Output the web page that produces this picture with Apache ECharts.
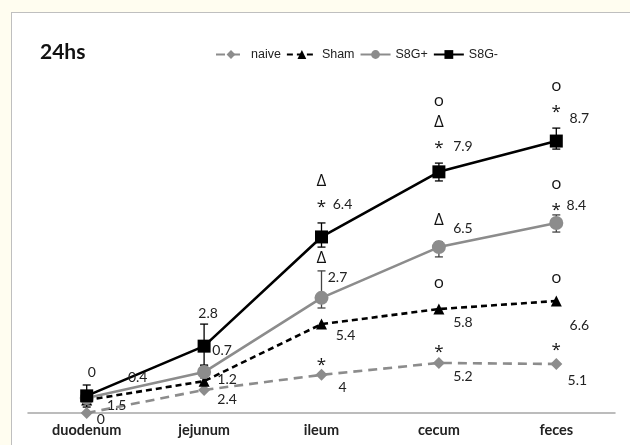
<!DOCTYPE html>
<html>
<head>
<meta charset="utf-8">
<script src="https://cdn.jsdelivr.net/npm/echarts@6/dist/echarts.min.js"></script>
<style>
  html, body { margin: 0; padding: 0; background: #FFFDF0; }
  .panel { position: absolute; left: 11px; top: 12px; width: 619px; height: 433px; background: #fff;
           border-top: 1px solid #BFBFBF; border-left: 1px solid #BFBFBF; box-sizing: border-box; }
  #chart { position: absolute; left: 0; top: 0; width: 630px; height: 445px; }
</style>
</head>
<body>
<div class="panel"></div>
<div id="chart"></div>
<script>
// categories and series (arbitrary units above the axis)
const categories = ['duodenum', 'jejunum', 'ileum', 'cecum', 'feces']
const naive = [0, 6.6, 10.9, 14.3, 14]
const sham = [3.7, 9.1, 25.4, 29.7, 32]
const s8gPlus = [4.3, 11.7, 32.9, 47.4, 54.3]
const s8gMinus = [4.9, 19.1, 50.3, 68.9, 77.7]

// error bars
const s8gPlusLow = [4.3, 10, 30, 44.6, 51.7]
const s8gPlusHigh = [4.3, 13.5, 40.6, 48.9, 56.6]
const s8gMinusLow = [1.7, 13.7, 47.4, 66.3, 75.4]
const s8gMinusHigh = [8.0, 25.4, 54.3, 71.4, 81.4]

// number labels printed next to the points
const naiveLabels = ['0', '2.4', '4', '5.2', '5.1']
const shamLabels = ['1.5', '1.2', '5.4', '5.8', '6.6']
const s8gPlusLabels = ['0.4', '0.7', '2.7', '6.5', '8.4']
const s8gMinusLabels = ['0', '2.8', '6.4', '7.9', '8.7']

// significance marks, top to bottom
const naiveSig = ['', '', '*', '*', '*']
const shamSig = ['', '', '', 'o', 'o']
const s8gPlusSig = ['', '', 'Δ', 'Δ', 'o*']
const s8gMinusSig = ['', '', 'Δ*', 'oΔ*', 'o*']

// label placement (pixels from the point)
const numOffsets = {
  naive: [[14, 6], [23, 10], [21, 13], [24, 14], [21, 16]],
  sham: [[30, 5], [23, -2], [24, 11], [24, 13], [23, 24]],
  plus: [[51, -20], [18, -22], [16, -20], [24, -19], [20, -17]],
  minus: [[5, -23], [4, -33], [21, -32], [24, -25], [23, -23]]
}
const sigBase = {
  naive: [0, 0, -15, -16, -19],
  sham: [0, 0, 0, -26, -23],
  plus: [0, 0, -40, -27, -18],
  minus: [0, 0, -35, -29, -34]
}
const sigAdjust = { '*': 5, 'o': 0, 'Δ': 0 }

const FONT = 'Lato, "Open Sans", sans-serif'
const GRAY = '#8C8C8C'

function pointData(values, labels, offs) {
  return values.map((v, i) => ({
    value: v,
    label: { show: true, formatter: labels[i], offset: offs[i] }
  }))
}

function sigMarks(values, sig, base) {
  const out = []
  sig.forEach((s, i) => {
    const chars = Array.from(s).reverse()
    chars.forEach((c, k) => {
      out.push({
        coord: [i, values[i]],
        symbolSize: 0,
        label: { show: true, formatter: c, position: 'inside', offset: [0, base[i] - 21 * k + sigAdjust[c]] }
      })
    })
  })
  return out
}

function errSeries(low, high, color) {
  return {
    type: 'custom',
    z: 1,
    silent: true,
    data: low.map((l, i) => [i, l, high[i]]),
    renderItem: (params, api) => {
      const lo = api.coord([api.value(0), api.value(1)])
      const hi = api.coord([api.value(0), api.value(2)])
      const w = 4
      const style = { stroke: color, lineWidth: 1.3 }
      return {
        type: 'group',
        children: [
          { type: 'line', shape: { x1: lo[0], y1: lo[1], x2: hi[0], y2: hi[1] }, style },
          { type: 'line', shape: { x1: hi[0] - w, y1: hi[1], x2: hi[0] + w, y2: hi[1] }, style },
          { type: 'line', shape: { x1: lo[0] - w, y1: lo[1], x2: lo[0] + w, y2: lo[1] }, style }
        ]
      }
    }
  }
}

const labelStyle = { position: 'inside', color: '#222', fontSize: 14, fontFamily: FONT }
const sigLabel = { color: '#111', fontSize: 17, fontFamily: '"Open Sans", "DejaVu Sans", sans-serif' }

function lineSeries(name, values, labels, offs, sig, base, color, type, symbol, size) {
  return {
    name,
    type: 'line',
    z: 3,
    data: pointData(values, labels, offs),
    symbol,
    symbolSize: size,
    showAllSymbol: true,
    lineStyle: { color, width: 2.6, type },
    itemStyle: { color },
    label: labelStyle,
    markPoint: { silent: true, symbol: 'circle', data: sigMarks(values, sig, base), label: sigLabel }
  }
}

const chart = echarts.init(document.getElementById('chart'))
chart.setOption({
  animation: false,
  title: {
    text: '24hs', left: 35, top: 37,
    textStyle: { fontSize: 21, fontWeight: 'bold', fontFamily: FONT, color: '#111' }
  },
  legend: {
    left: 210, top: 43,
    itemWidth: 30, itemHeight: 11, itemGap: 5,
    textStyle: { fontSize: 12.5, fontFamily: '"Liberation Sans", Arial, sans-serif', color: '#222' },
    data: ['naive', 'Sham', 'S8G+', 'S8G-']
  },
  grid: { left: 28, right: 15, top: 63, bottom: 32 },
  xAxis: {
    type: 'category',
    data: categories,
    axisLine: { lineStyle: { color: '#A6A6A6', width: 1.5 } },
    axisTick: { show: false },
    axisLabel: { margin: 10, fontSize: 14.5, fontWeight: 'bold', fontFamily: FONT, color: '#222' }
  },
  yAxis: { type: 'value', min: 0, max: 100, show: false, splitLine: { show: false } },
  series: [
    errSeries(s8gPlusLow, s8gPlusHigh, '#444'),
    errSeries(s8gMinusLow, s8gMinusHigh, '#000'),
    lineSeries('naive', naive, naiveLabels, numOffsets.naive, naiveSig, sigBase.naive, GRAY, [9, 6], 'diamond', 12),
    lineSeries('Sham', sham, shamLabels, numOffsets.sham, shamSig, sigBase.sham, '#000', [6, 4], 'triangle', 11),
    lineSeries('S8G+', s8gPlus, s8gPlusLabels, numOffsets.plus, s8gPlusSig, sigBase.plus, GRAY, 'solid', 'circle', 14),
    lineSeries('S8G-', s8gMinus, s8gMinusLabels, numOffsets.minus, s8gMinusSig, sigBase.minus, '#000', 'solid', 'rect', 13)
  ]
})
</script>
</body>
</html>
